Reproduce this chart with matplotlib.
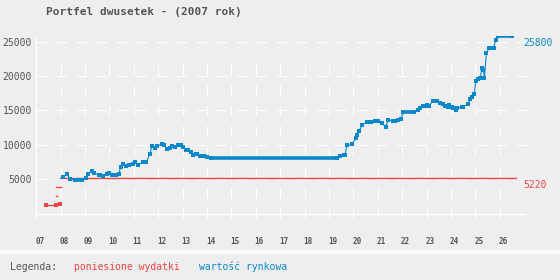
import numpy as np
import matplotlib.pyplot as plt
from matplotlib.patches import Rectangle

plt.rcParams["font.family"] = "DejaVu Sans Mono"
plt.rcParams["lines.scale_dashes"] = False

BG = "#eeeeee"
GREY = "#555555"
BLUE = "#0a88cc"
RED = "#ee4444"

# x = days counted from start of week 07
week_labels = ["07", "08", "09", "10", "11", "12", "13", "14", "15", "16",
               "17", "18", "19", "20", "21", "22", "23", "24", "25", "26"]
y_ticks = [5000, 10000, 15000, 20000, 25000]

# market value (wartosc rynkowa)
blue_days = [7.75, 8.7, 9.7, 11.1, 13.2, 14.3, 14.9, 15.9, 16.6, 17.9, 18.3,
             19.2, 20.2, 21.0, 21.6, 22.8, 23.7, 24.2, 24.8, 25.7, 26.7, 27.7,
             28.3, 29.3, 30.5, 31.6, 32.6, 33.2, 34.1, 34.7, 36.0, 36.7, 37.6,
             38.4, 39.0, 39.8, 40.6, 41.5, 42.2, 43.0, 43.6, 44.4, 44.9, 45.7,
             46.0, 47.0, 48.2, 49.1, 50.0, 86.2, 87.2, 88.2, 88.6, 89.1, 90.5,
             91.7, 92.1, 92.7, 93.5, 94.8, 96.0, 97.3, 98.1, 99.2, 100.2, 101.0,
             102.4, 103.0, 103.9, 104.6, 105.3, 108.5, 109.4, 110.0, 111.1,
             111.5, 112.0, 112.7, 113.7, 115.0, 115.9, 116.8, 117.3, 118.1,
             118.5, 119.2, 119.7, 120.3, 120.8, 122.1, 122.3, 123.8, 124.0,
             124.5, 125.1, 125.7, 126.1, 126.7, 127.4, 127.8, 128.3, 128.6,
             129.1, 129.9, 131.2, 131.8, 132.4, 136.4]
blue_vals = [5250, 5700, 5050, 4810, 4810, 5190, 5770, 6120, 5920, 5540, 5540,
             5440, 5680, 5830, 5630, 5580, 5730, 6790, 7140, 6930, 7030, 7140,
             7430, 7080, 7430, 7430, 8700, 9800, 9460, 9840, 10040, 9940, 9320,
             9460, 9800, 9610, 9990, 9940, 9690, 9260, 9260, 8880, 8490, 8590,
             8590, 8300, 8300, 8150, 8010, 8010, 8300, 8490, 8490, 9900, 10040,
             10920, 11400, 12020, 12900, 13300, 13300, 13450, 13450, 13100,
             12600, 13580, 13430, 13430, 13580, 13720, 14690, 14690, 15030,
             15280, 15570, 15570, 15760, 15650, 16290, 16290, 16000, 15900,
             15650, 15420, 15710, 15420, 15320, 15030, 15280, 15510, 15510,
             15860, 15860, 16580, 16920, 17350, 19290, 19490, 19640, 21090,
             20840, 19640, 23270, 24000, 24000, 25200, 25800, 25800]

# money spent (poniesione wydatki)
red_mark_days = [2.9, 5.7, 6.9]
red_mark_vals = [1180, 1180, 1320]
red_seg_start = [2.9, 5.65, 5.65, 6.8]
red_seg_end = [5.7, 5.8, 7.1, 137.6]
red_seg_vals = [1180, 2490, 3800, 5220]

x_max = 140.8
y_min, y_max = -130, 25800

fig = plt.figure(figsize=(5.6, 2.8), dpi=100, facecolor=BG)
ax = fig.add_axes([36.3 / 560, 1 - 214.3 / 280, (527 - 36.3) / 560, (214.3 - 36) / 280])
ax.set_facecolor(BG)
ax.set_xlim(0, x_max)
ax.set_ylim(y_min, y_max)
for s in ax.spines.values():
    s.set_visible(False)

trans = ax.get_xaxis_transform()

# grid
for v in y_ticks:
    ax.plot([0, x_max], [v, v], color="white", lw=0.8,
            dashes=(7.7, 6.7), zorder=1, clip_on=False)
week_days = [7 * i for i in range(1, len(week_labels))]
for d in week_days:
    ax.plot([d, d], [-0.019, 0.848], color="white", lw=0.8, transform=trans,
            dashes=(8.0, 6.6), zorder=1, clip_on=False)

# axis lines
ax.plot([0, 0], [-0.019, 1.0], color="white", lw=1, transform=trans,
        zorder=2, clip_on=False)
ax.plot([0, 140.3], [0, 0], color="white", lw=1, transform=trans,
        zorder=2, clip_on=False)

# red series
for a, b, v in zip(red_seg_start, red_seg_end, red_seg_vals):
    ax.plot([a, b], [v, v], color=RED, lw=1.0, zorder=3)
ax.plot(red_mark_days, red_mark_vals, "s", color=RED, ms=3, mew=0, zorder=3)

# blue series
bd = np.array(blue_days)
bv = np.array(blue_vals)
ax.plot(bd, bv, color=BLUE, lw=0.8, zorder=4)
for i in range(len(bd) - 1):
    if bv[i] == bv[i + 1]:
        ax.plot([bd[i], bd[i + 1]], [bv[i], bv[i]], color=BLUE, lw=2.6,
                solid_capstyle="butt", zorder=4)
ax.plot(bd, bv, "s", color=BLUE, ms=3.0, mew=0, zorder=4)

# ticks
ax.set_yticks(y_ticks)
ax.set_yticklabels([str(v) for v in y_ticks], color=GREY, fontsize=7)
ax.set_xticks([d + 1 for d in [0] + week_days])
ax.set_xticklabels(week_labels, color=GREY, fontsize=5.5, fontweight="bold")
ax.tick_params(axis="x", length=0, pad=16)
ax.tick_params(axis="y", length=0, pad=3)

# end value labels
ax.annotate(str(blue_vals[-1]), xy=(1, blue_vals[-1]),
            xycoords=("axes fraction", "data"), xytext=(-4, -7),
            textcoords="offset pixels", color=BLUE, fontsize=7, va="center")
ax.annotate(str(red_seg_vals[-1]), xy=(1, red_seg_vals[-1]),
            xycoords=("axes fraction", "data"), xytext=(-4, -7),
            textcoords="offset pixels", color=RED, fontsize=7, va="center")

# title
fig.text(45.7 / 560, 1 - 12 / 280, "Portfel dwusetek - (2007 rok)",
         color=GREY, fontsize=8, fontweight="bold", va="center", ha="left")

# legend band
fig.patches.append(Rectangle((0, 1 - 254 / 280), 1, 4 / 280, transform=fig.transFigure,
                             facecolor="#fafafa", edgecolor="none"))
fig.text(10 / 560, 1 - 267 / 280, "Legenda:", color=GREY, fontsize=7, va="center")
fig.text(74 / 560, 1 - 267 / 280, "poniesione wydatki", color=RED, fontsize=7, va="center")
fig.text(199 / 560, 1 - 267 / 280, "wartość rynkowa", color=BLUE, fontsize=7, va="center")

fig.savefig("out.png", dpi=100, facecolor=BG)
